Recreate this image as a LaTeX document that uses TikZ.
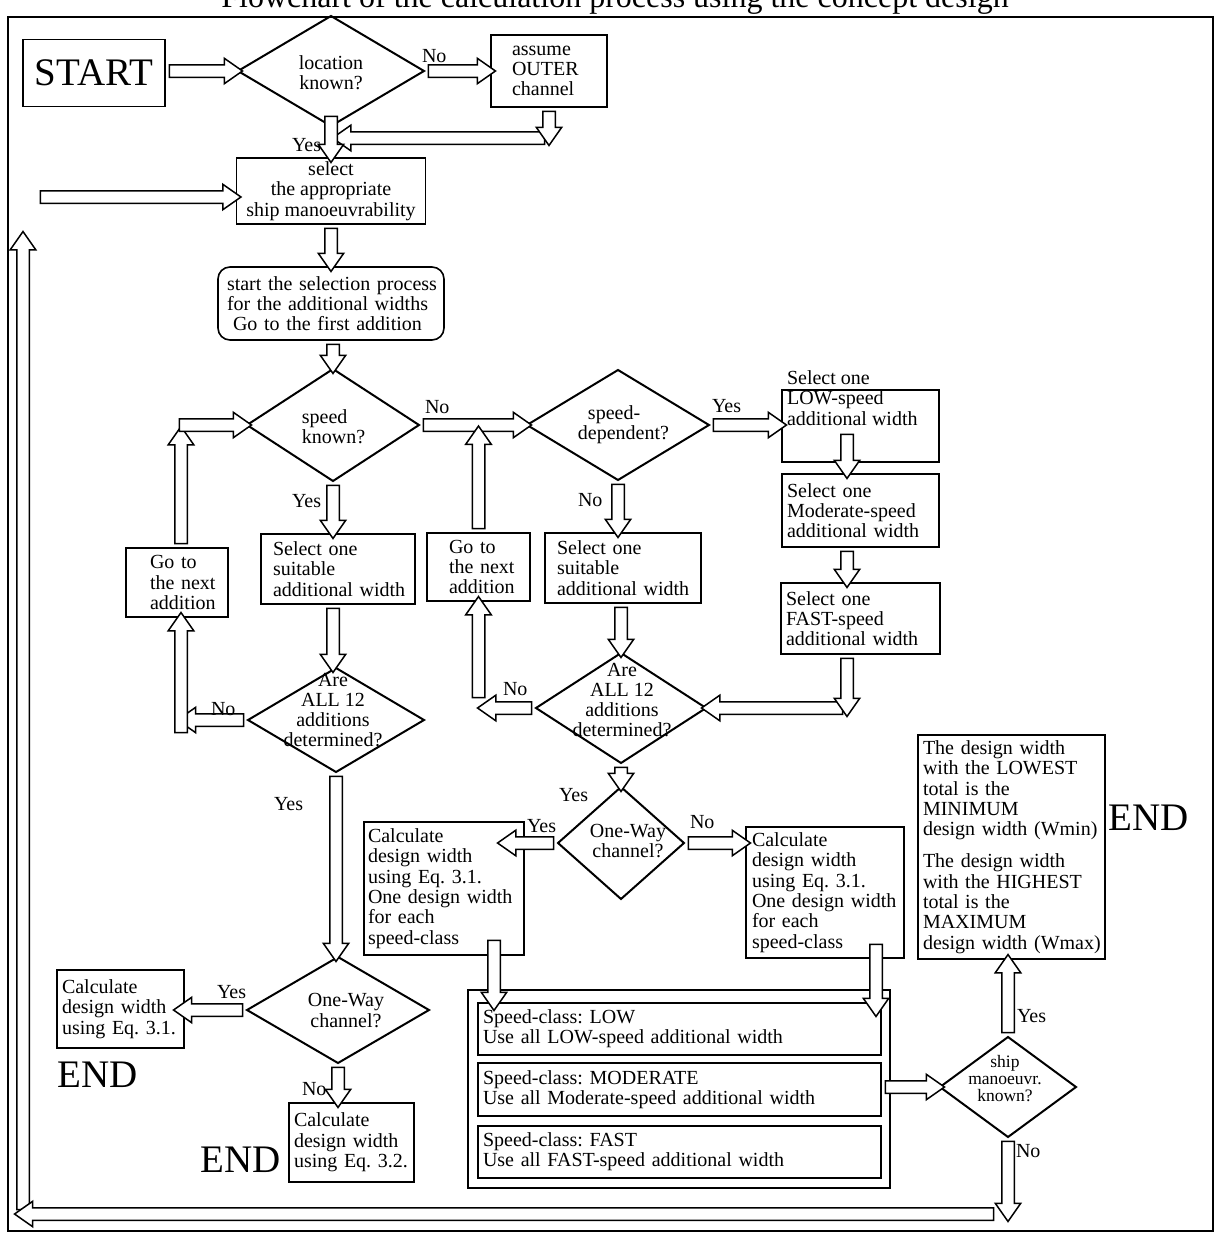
\documentclass[tikz,border=0pt]{standalone}
\usepackage{fontspec}
\setmainfont{Liberation Serif}
\usetikzlibrary{shapes.geometric,shapes.arrows,calc}
\frenchspacing
\newcounter{barc}
\newcommand\barr[2]{\stepcounter{barc}%
 \path let \p1=(#1), \p2=(#2), \n1={veclen(\x2-\x1,\y2-\y1)}, \n2={atan2(\y2-\y1,\x2-\x1)} in
 node[blockarr, minimum height=\n1, rotate=\n2] (ba\arabic{barc}) at ($(\p1)!0.5!(\p2)$) {};}
\newcommand\LS[1]{\leftskip=#1pt\relax}
\tikzset{
 txt/.style={font=\fontsize{20}{20.3}\selectfont\frenchspacing, inner sep=0pt, outer sep=0pt},
 box/.style={txt, draw, line width=1.6pt, rectangle, align=left},
 dia/.style={draw, line width=2pt, diamond, inner sep=0pt, outer sep=0pt},
 lab/.style={txt, anchor=base west},
 big/.style={inner sep=0pt, font=\fontsize{39}{39}\selectfont},
 blockarr/.style={draw, fill=white, line width=1.5pt, single arrow, inner xsep=0pt, inner ysep=5.5pt,
   single arrow head extend=6.5pt, single arrow tip angle=70, outer sep=0pt},
}
\begin{document}
\begin{tikzpicture}[x=1pt,y=-1pt]
\useasboundingbox (0,0) rectangle (1218,1234);
\fill[white] (0,0) rectangle (1218,1234);
\node[anchor=base, inner sep=0pt, font=\fontsize{32}{32}\selectfont] (title) at (615,8) {Flowchart of the calculation process using the concept design};
\draw[line width=2.2pt] (8,17) rectangle (1213,1231);

% boxes
\node[box, big, minimum width=142, minimum height=67, align=center] (start) at (94,73) {START};
\node[box, minimum width=116, minimum height=72, text width=114] (assume) at (549,71) {\LS{20}assume\\OUTER\\channel\par};
\node[box, minimum width=189, minimum height=66, align=center] (sel) at (331,191) {select\\the appropriate\\ship manoeuvrability};
\node[box, rounded corners=12pt, minimum width=226, minimum height=73, text width=224] (roundbox) at (331,303.5) {\LS{8}start the selection process\\for the additional widths\\\hspace*{6pt}Go to the first addition\par};
\node[box, minimum width=154, minimum height=70, text width=152] (sel1) at (338,569) {\LS{11}Select one\\suitable\\additional width\par};
\node[box, minimum width=102, minimum height=69, text width=100] (goto1) at (177,582.5) {\LS{23}Go to\\the next\\addition\par};
\node[box, minimum width=103, minimum height=68, text width=101] (goto2) at (478.5,567) {\LS{21}Go to\\the next\\addition\par};
\node[box, minimum width=156, minimum height=70, text width=154] (sel2) at (623,568) {\LS{11}Select one\\suitable\\additional width\par};
\node[box, minimum width=157, minimum height=72] (low) at (860.5,426) {};
\node[txt, align=left] (lowtxt) at (852.3,398) {Select one\\LOW-speed\\additional width};
\node[box, minimum width=157, minimum height=73, text width=155] (mod) at (860.5,510.5) {\LS{4}Select one\\Moderate-speed\\additional width\par};
\node[box, minimum width=159, minimum height=71, text width=157] (fast) at (860.5,618.5) {\LS{4}Select one\\FAST-speed\\additional width\par};
\node[box, minimum width=127, minimum height=78, text width=125] (calcL1) at (120.5,1009) {\LS{4}Calculate\\design width\\using Eq. 3.1.\par};
\node[box, minimum width=125, minimum height=79, text width=123] (calc32) at (351.5,1142.5) {\LS{4}Calculate\\design width\\using Eq. 3.2.\par};
\node[box, minimum width=160, minimum height=133, text width=158] (calcL2) at (444,888.5) {\LS{3}Calculate\\design width\\using Eq. 3.1.\\One design width\\for each\\speed-class\par};
\node[box, minimum width=158, minimum height=131, text width=156] (calcR) at (825,892.5) {\LS{5}Calculate\\design width\\using Eq. 3.1.\\One design width\\for each\\speed-class\par};
\node[box, minimum width=187, minimum height=224, text width=185] (result) at (1011.5,847) {\LS{4}The design width\\with the LOWEST\\total is the\\MINIMUM\\design width (Wmin)\\[12pt]The design width\\with the HIGHEST\\total is the\\MAXIMUM\\design width (Wmax)\par};
\node[box, minimum width=422, minimum height=198] (scbox) at (679,1089) {};
\node[box, minimum width=403, minimum height=52, text width=401] (sclow) at (679.5,1029) {\LS{4}Speed-class: LOW\\Use all LOW-speed additional width\par};
\node[box, minimum width=403, minimum height=53, text width=401] (scmod) at (679.5,1089.5) {\LS{4}Speed-class: MODERATE\\Use all Moderate-speed additional width\par};
\node[box, minimum width=403, minimum height=52, text width=401] (scfast) at (679.5,1152) {\LS{4}Speed-class: FAST\\Use all FAST-speed additional width\par};

% diamonds
\node[dia, minimum width=186, minimum height=110] (loc) at (331,71) {};
\node[txt, align=center] (loctxt) at (331,73) {location\\known?};
\node[dia, minimum width=172, minimum height=112] (sk) at (333,425) {};
\node[txt, align=left] (sktxt) at (333.5,427) {speed\\known?};
\node[dia, minimum width=182, minimum height=110] (sd) at (618,425) {};
\node[txt, align=left] (sdtxt) at (623.5,425) {\hspace*{10pt}speed-\\dependent?};
\node[dia, minimum width=176, minimum height=104] (all1) at (336,720) {};
\node[txt, align=center] (all1txt) at (333,710) {Are\\ALL 12\\additions\\determined?};
\node[dia, minimum width=170, minimum height=110] (all2) at (621,708) {};
\node[txt, align=center] (all2txt) at (622,700) {Are\\ALL 12\\additions\\determined?};
\node[dia, minimum width=182, minimum height=106] (ow1) at (338,1010) {};
\node[txt, align=center] (ow1txt) at (346,1010.5) {One-Way\\channel?};
\node[dia, minimum width=126, minimum height=112] (ow2) at (621,843) {};
\node[txt, align=center, font=\fontsize{20}{18}\selectfont] (ow2txt) at (628,841) {One-Way\\channel?};
\node[dia, minimum width=136, minimum height=100] (ship) at (1008,1087) {};
\node[txt, align=center, font=\fontsize{17.5}{17}\selectfont] (shiptxt) at (1005,1079) {ship\\manoeuvr.\\known?};

% END texts
\node[big, anchor=base west] (end1) at (57,1087) {END};
\node[big, anchor=base west] (end2) at (200,1172) {END};
\node[big, anchor=base west] (end3) at (1108,830) {END};

% coordinates for free arrow ends
\coordinate (ya) at (549,138);
\coordinate (yb) at (337,138);
\coordinate (yc) at (549,141);
\coordinate (yd) at (331,112);
\coordinate (r3) at (36,197);
\coordinate (n1) at (182,720);
\coordinate (u1) at (181,737);
\coordinate (u2) at (181,431);
\coordinate (h1) at (175,425);
\coordinate (u3) at (478.5,430.5);
\coordinate (u4) at (478.5,702);
\coordinate (n2) at (482,708);
\coordinate (d1) at (847,430);
\coordinate (d2) at (847,708);
\coordinate (d3) at (847,712);
\coordinate (t1) at (178,1010);
\coordinate (t2) at (502,843);
\coordinate (k1) at (494,936);
\coordinate (k2) at (494,1006);
\coordinate (k3) at (876,940);
\coordinate (k4) at (876,1012);
\coordinate (b1) at (1008,1217);
\coordinate (b2) at (998,1214);
\coordinate (b3) at (19,1214);
\coordinate (v1) at (23,1214);
\coordinate (v2) at (23,236);

% arrows
\barr{start.east |- loc.west}{loc.west}
\barr{loc.east}{loc.east -| assume.west}
\barr{ya}{yb}
\barr{assume.south}{yc}
\barr{yd}{sel.north}
\barr{r3}{r3 -| sel.west}
\barr{sel.south}{roundbox.north}
\barr{roundbox.south -| sk.north}{sk.north}
\barr{sk.south}{sk.south |- sel1.north}
\barr{sk.south |- sel1.south}{sk.south |- all1.north}
\barr{all1.west}{n1}
\barr{u1}{u1 |- goto1.south}
\barr{u2 |- goto1.north}{u2}
\barr{h1}{sk.west}
\barr{sk.east}{sd.west}
\barr{goto2.north}{u3}
\barr{u4}{goto2.south}
\barr{all2.west}{n2}
\barr{sd.east}{sd.east -| low.west}
\barr{sd.south}{sd.south |- sel2.north}
\barr{all2.north |- sel2.south}{all2.north}
\barr{d1}{d1 |- mod.north}
\barr{d1 |- mod.south}{d1 |- fast.north}
\barr{d2}{all2.east}
\barr{d1 |- fast.south}{d3}
\barr{all1.south}{all1.south |- ow1.north}
\barr{ow1.west}{t1}
\barr{ow1.south}{ow1.south |- calc32.north}
\barr{all2.south}{ow2.north}
\barr{ow2.west}{t2}
\barr{ow2.east}{ow2.east -| calcR.west}
\barr{k1}{k2}
\barr{k3}{k4}
\barr{scmod.east |- ship.west}{ship.west}
\barr{ship.north}{ship.north |- result.south}
\barr{v1}{v2}
\barr{b2}{b3}
\barr{ship.south}{b1}

% labels
\node[lab] (l1) at (422,62) {No};
\node[lab] (l2) at (292,151) {Yes};
\node[lab] (l3) at (292,507) {Yes};
\node[lab] (l4) at (425,413) {No};
\node[lab] (l5) at (578,506) {No};
\node[lab] (l6) at (712,412) {Yes};
\node[lab] (l7) at (211,715) {No};
\node[lab] (l8) at (503,695) {No};
\node[lab] (l9) at (274,810) {Yes};
\node[lab] (l10) at (559,801) {Yes};
\node[lab] (l11) at (527,832) {Yes};
\node[lab] (l12) at (690,828) {No};
\node[lab] (l13) at (217,998) {Yes};
\node[lab] (l14) at (302,1095) {No};
\node[lab] (l15) at (1017,1022) {Yes};
\node[lab] (l16) at (1016,1157) {No};
\end{tikzpicture}
\end{document}
